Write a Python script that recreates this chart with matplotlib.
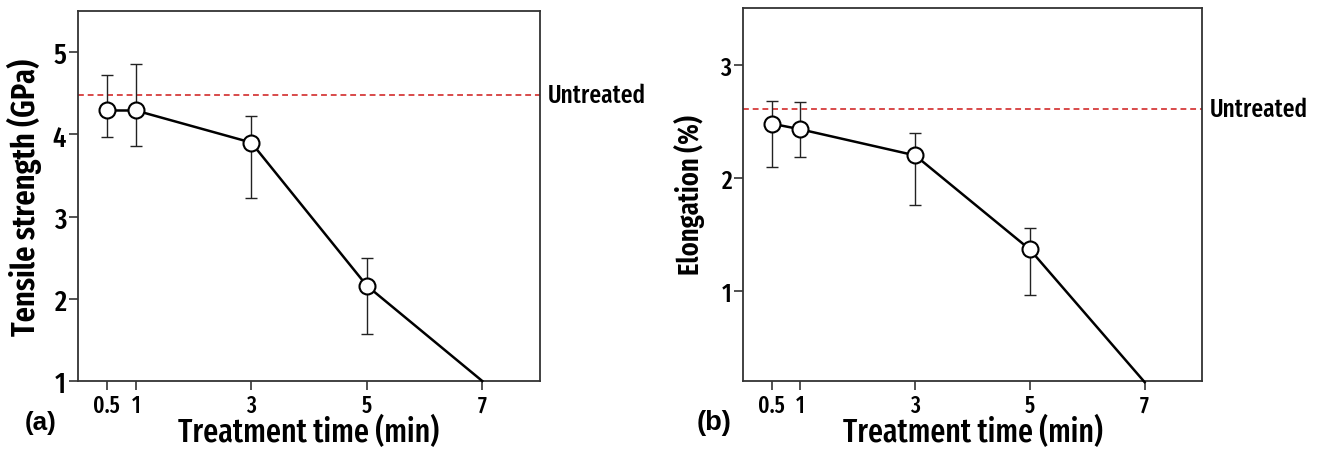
import matplotlib
matplotlib.use("Agg")
import matplotlib.pyplot as plt
import matplotlib.transforms as mtransforms
from matplotlib import font_manager

names = {f.name for f in font_manager.fontManager.ttflist}
cond = next((n for n in ["Fira Sans Extra Condensed", "Fira Sans Condensed", "Pragati Narrow"] if n in names), "DejaVu Sans")
plt.rcParams['font.family'] = [cond, 'DejaVu Sans']

# Data
times = [0.5, 1, 3, 5, 7]
xticks = [0.5, 1, 3, 5, 7]
xticklabels = ["0.5", "1", "3", "5", "7"]

tensile = [4.29, 4.29, 3.90, 2.16, 1.0]
tensile_lo = [3.97, 3.86, 3.22, 1.57]
tensile_hi = [4.72, 4.85, 4.22, 2.49]
tensile_untreated = 4.48

elong = [2.48, 2.43, 2.20, 1.37, 0.2]
elong_lo = [2.10, 2.19, 1.76, 0.97]
elong_hi = [2.68, 2.67, 2.40, 1.56]
elong_untreated = 2.61

W, H = 1322, 452
fig = plt.figure(figsize=(W / 100, H / 100), dpi=100)

def frac_axes(l, r, t, b):
    return fig.add_axes([l / W, (H - b) / H, (r - l) / W, (b - t) / H])

ax1 = frac_axes(78, 540, 12, 382)
ax2 = frac_axes(743, 1202, 9, 382)

fits = []  # (text artist, target px, 'w' or 'h')

def panel(ax, y, lo, hi, untreated, ylim, yticks, ylabel, tag, ytick_fs,
          ylab_px, ylab_len, xlab_len, tag_px, tag_w, axl, axr, axt, axb):
    n = len(lo)
    yerr = [[y[i] - lo[i] for i in range(n)], [hi[i] - y[i] for i in range(n)]]
    ax.errorbar(times[:n], y[:n], yerr=yerr, fmt='none', ecolor='#222222',
                elinewidth=1.0, capsize=4, capthick=1.0, zorder=2)
    ax.plot(times, y, color='black', lw=1.8, zorder=3, clip_on=False)
    ax.plot(times[:n], y[:n], 'o', ms=11.5, mfc='white', mec='black', mew=1.5, zorder=4)
    ax.axhline(untreated, color='#d84a4a', ls=(0, (3, 2)), lw=1.4, zorder=1)
    off = mtransforms.offset_copy(ax.get_yaxis_transform(), fig=fig, x=8, y=0, units='dots')
    ut = ax.text(1.0, untreated, "Untreated", transform=off,
                 ha='left', va='center', fontsize=17.5, fontweight=500)
    fits.append((ut, 98, 'w'))
    ax.set_xlim(0, 8)
    ax.set_ylim(*ylim)
    ax.set_xticks(xticks)
    ax.set_xticklabels(xticklabels)
    ax.set_yticks(yticks)
    ax.tick_params(axis='both', length=6.5, width=1.2, direction='out', colors='#333333')
    ax.tick_params(axis='x', labelsize=17, labelcolor='black', pad=3)
    ax.tick_params(axis='y', labelsize=ytick_fs, labelcolor='black', pad=2)
    for lab in ax.get_xticklabels() + ax.get_yticklabels():
        lab.set_fontweight(500)
    for s in ax.spines.values():
        s.set_linewidth(1.3)
        s.set_color('#333333')
    xl = ax.set_xlabel("Treatment time (min)", fontsize=21.5, fontweight=500)
    xl.set_va('center')
    ax.xaxis.set_label_coords(0.5, (axb - 433) / (axb - axt))
    fits.append((xl, xlab_len, 'w'))
    yl = ax.set_ylabel(ylabel, fontsize=21, fontweight=600)
    yl.set_va('center')
    ax.yaxis.set_label_coords((ylab_px - axl) / (axr - axl), 0.5)
    fits.append((yl, ylab_len, 'h'))
    tg = ax.text((tag_px - axl) / (axr - axl), (axb - 423) / (axb - axt), tag,
                 transform=ax.transAxes, fontsize=18, fontweight='bold',
                 ha='center', va='center', family=['Liberation Sans', 'DejaVu Sans'])
    fits.append((tg, tag_w, 'w'))

panel(ax1, tensile, tensile_lo, tensile_hi, tensile_untreated, (1, 5.5),
      [1, 2, 3, 4, 5], "Tensile strength (GPa)", "(a)", 21,
      25, 277, 261, 41, 32, 78, 540, 12, 382)
panel(ax2, elong, elong_lo, elong_hi, elong_untreated, (0.21, 3.5),
      [1, 2, 3], "Elongation (%)", "(b)", 18.5,
      689, 160, 260, 714.5, 35, 743, 1202, 9, 382)

# fit text sizes to measured pixel extents
fig.canvas.draw()
r = fig.canvas.get_renderer()
for t, target, mode in fits:
    bb = t.get_window_extent(r)
    cur = bb.width if mode == 'w' else bb.height
    if cur > 0:
        t.set_fontsize(t.get_fontsize() * target / cur)

# x tick labels: "0.5" about 27 px wide
fig.canvas.draw()
for ax in (ax1, ax2):
    lab = ax.get_xticklabels()[0]
    w = lab.get_window_extent(r).width
    fs = lab.get_fontsize() * 27 / w
    ax.tick_params(axis='x', labelsize=fs)

fig.savefig("out.png", dpi=100)
